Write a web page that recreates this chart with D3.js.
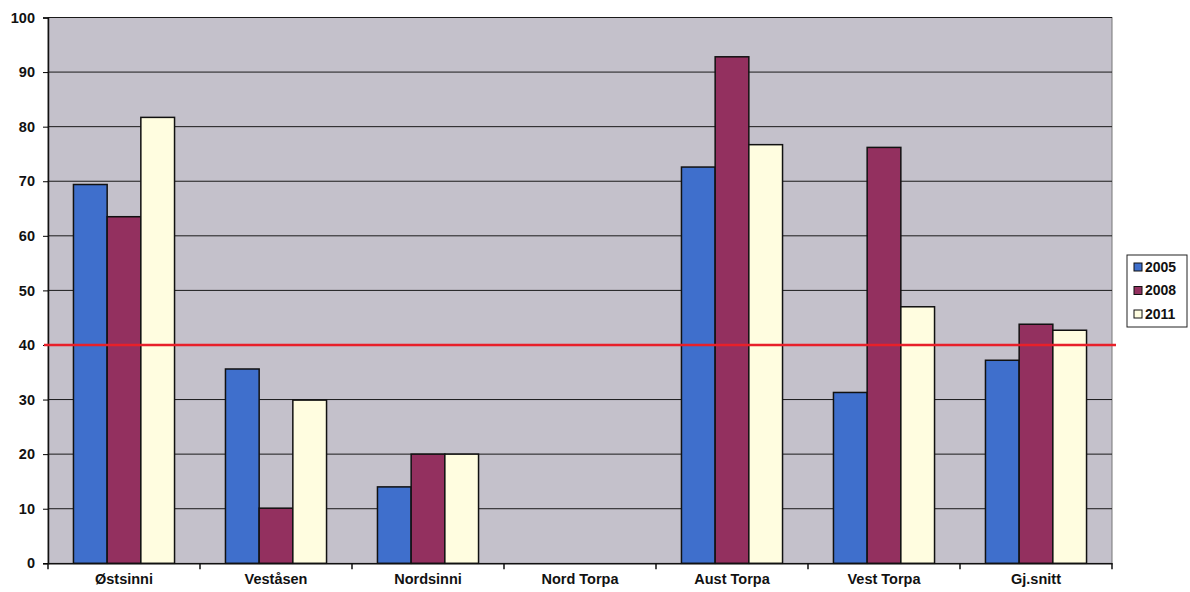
<!DOCTYPE html>
<html><head><meta charset="utf-8">
<script src="https://cdn.jsdelivr.net/npm/d3@7"></script>
<style>body{margin:0;background:#fff;} text{font-family:"Liberation Sans",Arial,sans-serif;font-weight:bold;}</style>
</head><body>
<svg id="c" width="1190" height="592"></svg>
<script>
const categories = ["Østsinni","Veståsen","Nordsinni","Nord Torpa","Aust Torpa","Vest Torpa","Gj.snitt"];
const seriesNames = ["2005","2008","2011"];
const v2005 = [69.4, 35.6, 14.0, null, 72.6, 31.3, 37.2];
const v2008 = [63.5, 10.1, 20.0, null, 92.8, 76.2, 43.8];
const v2011 = [81.7, 29.9, 20.0, null, 76.7, 47.0, 42.7];
const yTicks = [0,10,20,30,40,50,60,70,80,90,100];
const target = 40;
const colors = ["#3f6fcc","#93305f","#fffde0"];

const svg = d3.select("#c");
const L=48, R=1112, T=17.5, B=563.3;
const x = d3.scaleBand().domain(categories).range([L,R]).paddingInner(0.335).paddingOuter(0.1675);
const xs = d3.scaleBand().domain(seriesNames).range([0,x.bandwidth()]);
const y = d3.scaleLinear().domain([0,100]).range([B,T]);

svg.append("rect").attr("x",L).attr("y",T).attr("width",R-L).attr("height",B-T).attr("fill","#c4c1cb").attr("stroke","#777").attr("stroke-width",1);

// gridlines
svg.append("g").selectAll("line").data(yTicks.filter(d=>d>0)).join("line")
  .attr("x1",L).attr("x2",R).attr("y1",d=>y(d)).attr("y2",d=>y(d))
  .attr("stroke","#1a1a1a").attr("stroke-width",1);

const data = [v2005,v2008,v2011];
data.forEach((vals,si)=>{
  svg.append("g").selectAll("rect").data(vals.map((v,i)=>({c:categories[i],v})).filter(d=>d.v!=null)).join("rect")
    .attr("x",d=>x(d.c)+xs(seriesNames[si]))
    .attr("width",xs.bandwidth())
    .attr("y",d=>y(d.v))
    .attr("height",d=>y(0)-y(d.v))
    .attr("fill",colors[si]).attr("stroke","#111").attr("stroke-width",1.5);
});

// axes
const ya = svg.append("g").attr("transform",`translate(${L},0)`)
  .call(d3.axisLeft(y).tickValues(yTicks).tickSize(5).tickPadding(8));
ya.select(".domain").attr("stroke","#111").attr("stroke-width",1.5);
ya.selectAll("text").attr("font-size",14.5).attr("fill","#111");
const xa = svg.append("g").attr("transform",`translate(0,${B})`)
  .call(d3.axisBottom(x).tickSize(0).tickPadding(10));
xa.select(".domain").attr("stroke","#111").attr("stroke-width",1.5);
xa.selectAll("text").attr("font-size",14.5).attr("fill","#111");
// category separator ticks
const bounds = d3.range(categories.length+1).map(i=>L+i*(R-L)/categories.length);
svg.append("g").selectAll("line").data(bounds).join("line")
  .attr("x1",d=>d).attr("x2",d=>d).attr("y1",B).attr("y2",B+6).attr("stroke","#111").attr("stroke-width",1.5);

// red reference line
svg.append("line").attr("x1",L-4).attr("x2",R+4).attr("y1",y(target)).attr("y2",y(target))
  .attr("stroke","#e8202a").attr("stroke-width",2.5);

// legend
const lg = svg.append("g");
lg.append("rect").attr("x",1127).attr("y",255).attr("width",60).attr("height",72).attr("fill","#fff").attr("stroke","#222").attr("stroke-width",1);
seriesNames.forEach((s,i)=>{
  const yy = 267 + i*23.5;
  lg.append("rect").attr("x",1134).attr("y",yy-4).attr("width",8).attr("height",8).attr("fill",colors[i]).attr("stroke","#111").attr("stroke-width",1);
  lg.append("text").attr("x",1145).attr("y",yy).attr("dy","0.35em").attr("font-size",14).attr("fill","#111").text(s);
});
</script>
</body></html>
